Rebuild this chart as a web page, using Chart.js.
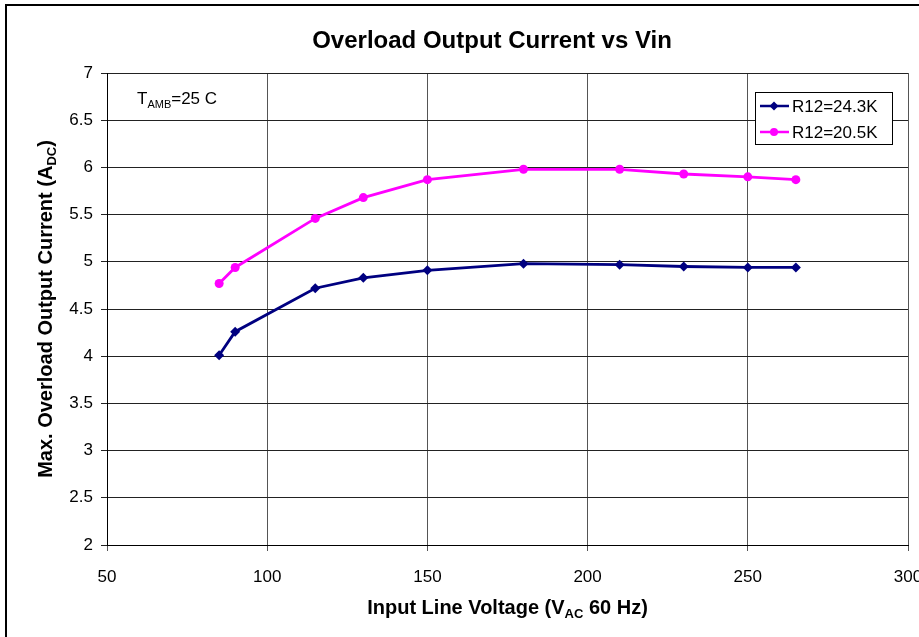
<!DOCTYPE html>
<html>
<head>
<meta charset="utf-8">
<title>Overload Output Current vs Vin</title>
<style>
  html, body { margin: 0; padding: 0; background: #fff; overflow: hidden; }
  #wrap { width: 960px; height: 680px; }
</style>
<script src="https://cdn.jsdelivr.net/npm/chart.js@4.4.1/dist/chart.umd.min.js"></script>
</head>
<body>
<div id="wrap"><canvas id="chart" width="960" height="680"></canvas></div>
<script>
  'use strict';

  // Chart data
  const voltages = [85, 90, 115, 130, 150, 180, 210, 230, 250, 265];
  const currentR24 = [4.01, 4.26, 4.72, 4.83, 4.91, 4.98, 4.97, 4.95, 4.94, 4.94];
  const currentR20 = [4.77, 4.94, 5.46, 5.68, 5.87, 5.98, 5.98, 5.93, 5.90, 5.87];
  const seriesLabels = ['R12=24.3K', 'R12=20.5K'];
  const seriesColors = ['#000080', '#FF00FF'];
  const seriesMarkers = ['rectRot', 'circle'];
  const xTicks = [50, 100, 150, 200, 250, 300];
  const yTicks = [2, 2.5, 3, 3.5, 4, 4.5, 5, 5.5, 6, 6.5, 7];

  const FONT = '"Liberation Sans", Arial, sans-serif';

  const toPoints = (values) => values.map((v, i) => ({ x: voltages[i], y: v }));

  // Draw a run of text parts (for subscripts) centred on x
  const drawRich = (ctx, parts, x, y) => {
    let total = 0;
    parts.forEach(p => { ctx.font = p.font; total += ctx.measureText(p.text).width; });
    let cx = x - total / 2;
    ctx.textAlign = 'left';
    ctx.textBaseline = 'alphabetic';
    parts.forEach(p => {
      ctx.font = p.font;
      ctx.fillText(p.text, cx, y + (p.dy || 0));
      cx += ctx.measureText(p.text).width;
    });
  };

  const drawMarker = (ctx, style, color, x, y, r) => {
    ctx.fillStyle = color;
    ctx.beginPath();
    if (style === 'circle') {
      ctx.arc(x, y, r, 0, Math.PI * 2);
    } else {
      ctx.moveTo(x, y - r); ctx.lineTo(x + r, y); ctx.lineTo(x, y + r); ctx.lineTo(x - r, y);
      ctx.closePath();
    }
    ctx.fill();
  };

  const decorations = {
    id: 'decorations',
    afterDraw(chart) {
      const ctx = chart.ctx;
      const area = chart.chartArea;
      ctx.save();

      // outer frame (cut off at right and bottom like the reference)
      ctx.strokeStyle = '#000';
      ctx.lineWidth = 2;
      ctx.beginPath();
      ctx.moveTo(6, 700); ctx.lineTo(6, 5); ctx.lineTo(1000, 5);
      ctx.stroke();

      ctx.fillStyle = '#000';
      // title
      drawRich(ctx, [{ text: 'Overload Output Current vs Vin', font: 'bold 24px ' + FONT }], 492, 48);

      // x axis title
      drawRich(ctx, [
        { text: 'Input Line Voltage (V', font: 'bold 20px ' + FONT },
        { text: 'AC', font: 'bold 13px ' + FONT, dy: 4 },
        { text: ' 60 Hz)', font: 'bold 20px ' + FONT }
      ], (area.left + area.right) / 2, 614);

      // y axis title
      ctx.save();
      ctx.translate(52, (area.top + area.bottom) / 2);
      ctx.rotate(-Math.PI / 2);
      drawRich(ctx, [
        { text: 'Max. Overload Output Current (A', font: 'bold 20px ' + FONT },
        { text: 'DC', font: 'bold 13px ' + FONT, dy: 4 },
        { text: ')', font: 'bold 20px ' + FONT }
      ], 0, 0);
      ctx.restore();

      // T_AMB annotation
      ctx.textAlign = 'left';
      ctx.textBaseline = 'alphabetic';
      ctx.font = '17px ' + FONT;
      let tx = 137;
      ctx.fillText('T', tx, 104);
      tx += ctx.measureText('T').width;
      ctx.font = '11px ' + FONT;
      ctx.fillText('AMB', tx, 108);
      tx += ctx.measureText('AMB').width;
      ctx.font = '17px ' + FONT;
      ctx.fillText('=25 C', tx, 104);

      // legend
      ctx.fillStyle = '#fff';
      ctx.fillRect(755, 92, 137, 52);
      ctx.strokeStyle = '#000';
      ctx.lineWidth = 1;
      ctx.strokeRect(755.5, 92.5, 137, 52);
      chart.data.datasets.forEach((ds, i) => {
        const y = 106 + i * 26;
        ctx.strokeStyle = seriesColors[i];
        ctx.lineWidth = 2.5;
        ctx.beginPath();
        ctx.moveTo(760, y); ctx.lineTo(789, y);
        ctx.stroke();
        drawMarker(ctx, seriesMarkers[i], seriesColors[i], 774, y, i === 0 ? 4.5 : 4);
        ctx.fillStyle = '#000';
        ctx.font = '17px ' + FONT;
        ctx.textBaseline = 'middle';
        ctx.fillText(ds.label, 792, y + 1);
      });

      ctx.restore();
    }
  };

  const datasets = [currentR24, currentR20].map((values, i) => ({
    label: seriesLabels[i],
    data: toPoints(values),
    borderColor: seriesColors[i],
    backgroundColor: seriesColors[i],
    borderWidth: 2.8,
    pointStyle: seriesMarkers[i],
    pointRadius: i === 0 ? 5 : 4.5,
    pointHoverRadius: i === 0 ? 5 : 4.5,
    pointBorderWidth: 0,
    tension: 0
  }));

  new Chart(document.getElementById('chart'), {
    type: 'line',
    data: { datasets },
    options: {
      responsive: false,
      animation: false,
      devicePixelRatio: 1,
      layout: { padding: { left: 0, right: 52, top: 73, bottom: 0 } },
      plugins: {
        legend: { display: false },
        title: { display: false },
        tooltip: { enabled: false }
      },
      scales: {
        x: {
          type: 'linear',
          min: xTicks[0],
          max: xTicks[xTicks.length - 1],
          afterBuildTicks: (scale) => { scale.ticks = xTicks.map(v => ({ value: v })); },
          afterFit: (scale) => { scale.height = 135; },
          grid: { color: '#555', lineWidth: 1, tickLength: 6, drawTicks: true },
          border: { color: '#000', width: 1 },
          ticks: { color: '#000', font: { family: FONT, size: 17 }, padding: 16, maxRotation: 0,
                   callback: (v) => String(v) }
        },
        y: {
          type: 'linear',
          min: yTicks[0],
          max: yTicks[yTicks.length - 1],
          afterBuildTicks: (scale) => { scale.ticks = yTicks.map(v => ({ value: v })); },
          afterFit: (scale) => { scale.width = 107; },
          grid: { color: '#222', lineWidth: 1, tickLength: 6, drawTicks: true },
          border: { color: '#000', width: 1 },
          ticks: { color: '#000', font: { family: FONT, size: 17 }, padding: 8,
                   callback: (v) => String(v) }
        }
      }
    },
    plugins: [decorations]
  });
</script>
</body>
</html>
